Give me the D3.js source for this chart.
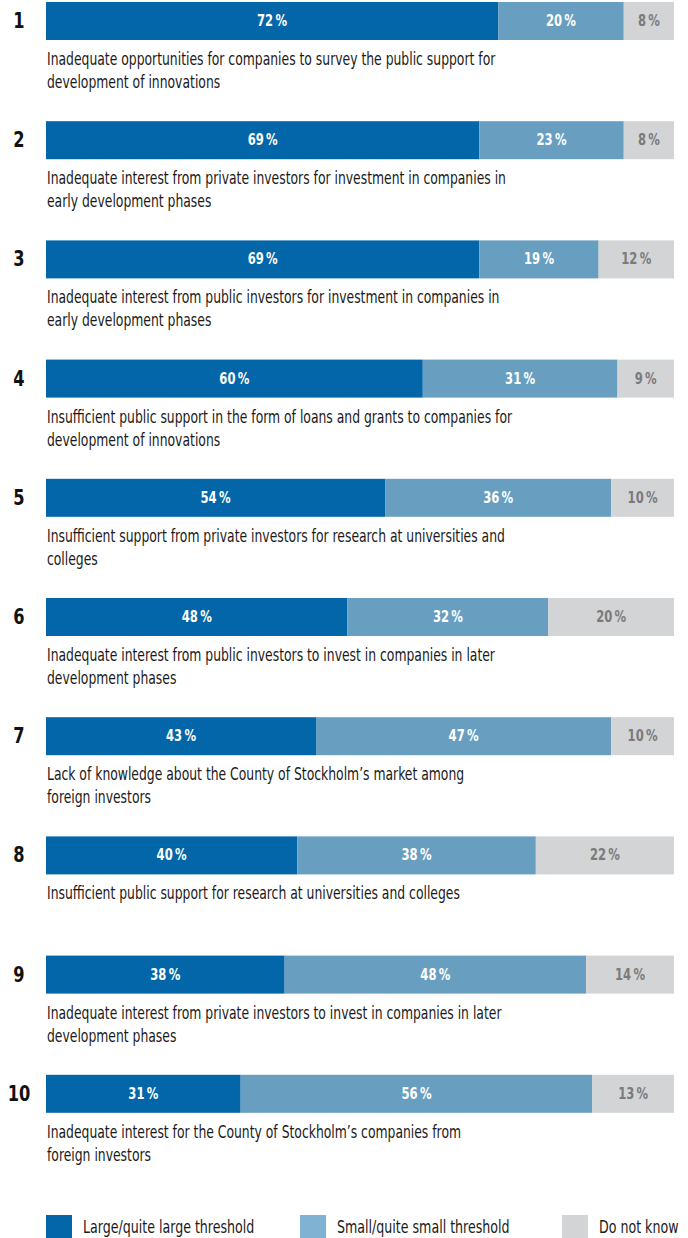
<!DOCTYPE html>
<html>
<head>
<meta charset="utf-8">
<script src="https://cdn.jsdelivr.net/npm/d3@7"></script>
<style>
  body { margin: 0; background: #fff; }
  svg text { font-family: "DejaVu Sans Condensed", "Liberation Sans Narrow", sans-serif; }
</style>
</head>
<body>
<div id="chart"></div>
<script>
// data
const ranks = [1, 2, 3, 4, 5, 6, 7, 8, 9, 10];
const large = [72, 69, 69, 60, 54, 48, 43, 40, 38, 31];
const small = [20, 23, 19, 31, 36, 32, 47, 38, 48, 56];
const dontKnow = [8, 8, 12, 9, 10, 20, 10, 22, 14, 13];
const descriptions = [
  ["Inadequate opportunities for companies to survey the public support for", "development of innovations"],
  ["Inadequate interest from private investors for investment in companies in", "early development phases"],
  ["Inadequate interest from public investors for investment in companies in", "early development phases"],
  ["Insufficient public support in the form of loans and grants to companies for", "development of innovations"],
  ["Insufficient support from private investors for research at universities and", "colleges"],
  ["Inadequate interest from public investors to invest in companies in later", "development phases"],
  ["Lack of knowledge about the County of Stockholm\u2019s market among", "foreign investors"],
  ["Insufficient public support for research at universities and colleges"],
  ["Inadequate interest from private investors to invest in companies in later", "development phases"],
  ["Inadequate interest for the County of Stockholm\u2019s companies from", "foreign investors"]
];
const seriesKeys = ["Large/quite large threshold", "Small/quite small threshold", "Do not know"];

// layout
const WIDTH = 688, HEIGHT = 1238;
const barH = 38;
// horizontal squeeze to mimic the condensed face of the original
const squeezeNum = 0.86;
const squeezeDesc = 0.81;
const squeezeLeg = 0.78;

const svg = d3.select("#chart").append("svg")
  .attr("width", WIDTH)
  .attr("height", HEIGHT);

const x = d3.scaleLinear().domain([0, 100]).range([46, 674]);
const y = d3.scaleBand().domain(ranks).range([2, 1194]).paddingInner(0).paddingOuter(0);

const color = d3.scaleOrdinal().domain(seriesKeys).range(["#0266a8", "#689fc1", "#d3d4d6"]);
const legendColor = d3.scaleOrdinal().domain(seriesKeys).range(["#0266a8", "#80b2d3", "#d3d4d6"]);
const labelColor = d3.scaleOrdinal().domain(seriesKeys).range(["#fff", "#fff", "#7a7a7a"]);

const rows = ranks.map((r, i) => ({ rank: r, vals: [large[i], small[i], dontKnow[i]], desc: descriptions[i] }));

const row = svg.selectAll(".row")
  .data(rows)
  .enter().append("g")
  .attr("class", "row")
  .attr("transform", d => `translate(0,${y(d.rank)})`);

// rank number
row.append("text")
  .attr("transform", `translate(19,${barH / 2 + 7}) scale(${squeezeNum},1)`)
  .attr("text-anchor", "middle")
  .style("font-size", "21px")
  .style("font-weight", "bold")
  .attr("fill", "#111")
  .text(d => d.rank);

// stacked segments
row.each(function (d) {
  const gRow = d3.select(this);
  let acc = 0;
  const segs = d.vals.map((v, j) => {
    const s = { key: seriesKeys[j], x0: acc, x1: acc + v, v };
    acc += v;
    return s;
  });
  gRow.selectAll("rect")
    .data(segs)
    .enter().append("rect")
    .attr("x", s => x(s.x0))
    .attr("width", s => x(s.x1) - x(s.x0))
    .attr("y", 0)
    .attr("height", barH)
    .attr("fill", s => color(s.key));
  gRow.selectAll(".val")
    .data(segs)
    .enter().append("text")
    .attr("class", "val")
    .attr("transform", s => `translate(${(x(s.x0) + x(s.x1)) / 2},${barH / 2 + 5}) scale(${squeezeNum},1)`)
    .attr("text-anchor", "middle")
    .style("font-size", "15px")
    .style("font-weight", "bold")
    .attr("fill", s => labelColor(s.key))
    .text(s => s.v + "\u2009%");
});

// descriptions
row.append("text")
  .attr("transform", `translate(47,63) scale(${squeezeDesc},1)`)
  .style("font-size", "17px")
  .attr("fill", "#1a1a1a")
  .selectAll("tspan")
  .data(d => d.desc)
  .enter().append("tspan")
  .attr("x", 0)
  .attr("dy", (t, i) => i === 0 ? 0 : 23)
  .text(t => t);

// legend
const legendX = [46, 300, 562];
const legend = svg.selectAll(".legend")
  .data(seriesKeys)
  .enter().append("g")
  .attr("class", "legend")
  .attr("transform", (k, i) => `translate(${legendX[i]},1215)`);
legend.append("rect")
  .attr("width", 26)
  .attr("height", 23)
  .attr("fill", k => legendColor(k));
legend.append("text")
  .attr("transform", `translate(37,18) scale(${squeezeLeg},1)`)
  .style("font-size", "18px")
  .attr("fill", "#1a1a1a")
  .text(k => k);
</script>
</body>
</html>
